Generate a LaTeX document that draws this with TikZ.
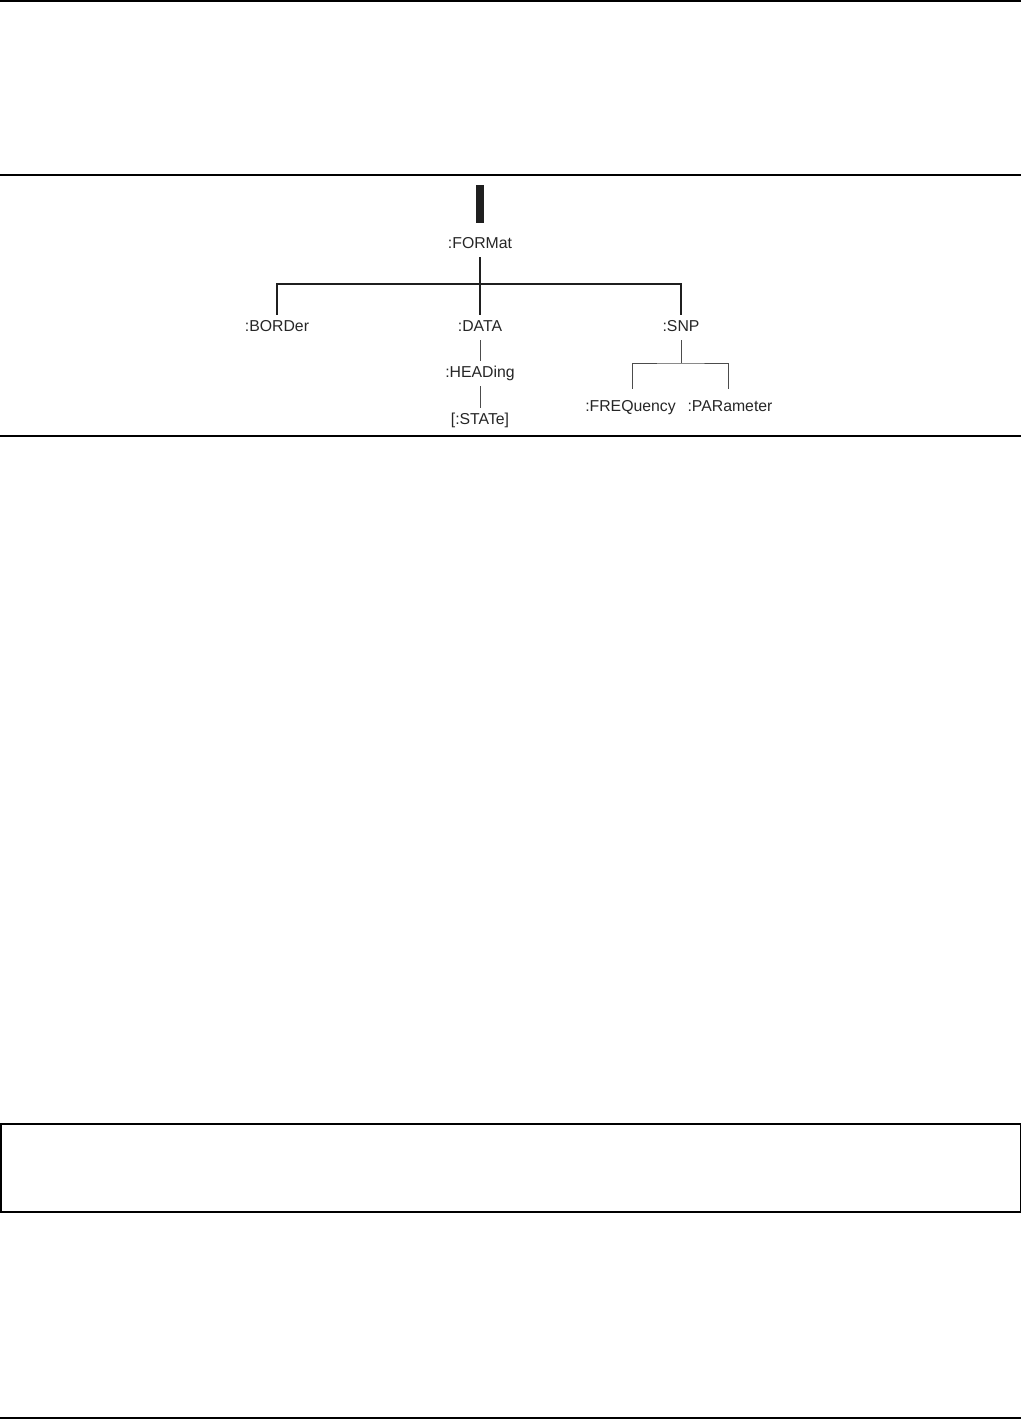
\documentclass[tikz,border=0pt]{standalone}
\usepackage{fontspec}
\setmainfont{Liberation Sans}
\begin{document}
\begin{tikzpicture}[x=1pt,y=-1pt,
  rule/.style={line width=1.3pt,draw=black},
  lbl/.style={anchor=base,inner xsep=0pt,inner ysep=5pt,text height=11pt,text depth=4pt,
    font=\fontsize{15.8}{18}\selectfont,text=black!85},
  thick link/.style={line width=1.8pt,draw=black!88},
  thin link/.style={line width=1pt,draw=black!70}]
\useasboundingbox (0,0) rectangle (1021,1419);
% page rules
\draw[line width=2pt] (0,1) -- (1021,1);
\draw[rule] (0,175) -- (1021,175);
\draw[rule] (0,436) -- (1021,436);
\draw[line width=1.5pt] (0.75,1124) rectangle (1020.25,1212);
\draw[rule] (0,1418) -- (1021,1418);
% tree
\fill[black!88] (476,185) rectangle (483.5,223);
\node[lbl] (FORMat) at (480,248) {:FORMat};
\node[lbl] (BORDer) at (277,331) {:BORDer};
\node[lbl] (DATA) at (480,331) {:DATA};
\node[lbl] (SNP) at (681,331) {:SNP};
\node[lbl] (HEADing) at (480,377) {:HEADing};
\node[lbl] (STATe) at (480,424) {[:STATe]};
\node[lbl] (FREQ) at (630.5,411) {:FREQuency};
\node[lbl] (PAR) at (730,411) {:PARameter};
\coordinate (bus) at (480,284);
\coordinate (snpbus) at (681,363);
\draw[thick link] (FORMat.south) -- (DATA.north);
\draw[thick link] (BORDer.north) |- (bus) -| (SNP.north);
\draw[thin link] (DATA.south) -- (HEADing.north);
\draw[thin link] (HEADing.south) -- (STATe.north);
\draw[thin link] (SNP.south) -- (snpbus);
\draw[thin link] ([xshift=1.5pt,yshift=6pt]FREQ.north) |- (snpbus) -| ([xshift=-2pt,yshift=6pt]PAR.north);
\end{tikzpicture}
\end{document}
